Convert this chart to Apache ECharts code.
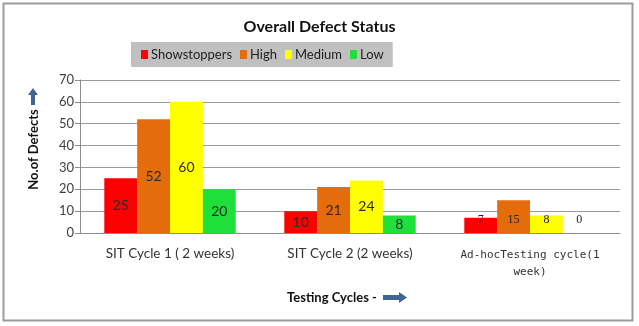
<!DOCTYPE html>
<html>
<head>
<meta charset="utf-8">
<script src="https://cdn.jsdelivr.net/npm/echarts@6/dist/echarts.min.js"></script>
<style>
html,body{margin:0;padding:0;background:#fff;}
#chart{width:639px;height:326px;}
</style>
</head>
<body>
<div id="chart"></div>
<script>
const categories = ['SIT Cycle 1 ( 2 weeks)', 'SIT Cycle 2 (2 weeks)', 'Ad-hocTesting cycle(1\nweek)'];
const seriesNames = ['Showstoppers', 'High', 'Medium', 'Low'];
const showstoppers = [25, 10, 7];
const high = [52, 21, 15];
const medium = [60, 24, 8];
const low = [20, 8, 0];
const seriesColors = ['#ff0000', '#e46c0a', '#ffff00', '#1fe03a'];
const yMin = 0, yMax = 70, yStep = 10;

const valuesList = [showstoppers, high, medium, low];
const FONT = 'Lato';

function buildData(values) {
  return values.map(function (v, i) {
    if (i === 2) {
      return {
        value: v,
        label: {
          position: 'insideBottom',
          distance: 7,
          fontFamily: 'Liberation Serif',
          fontSize: 12,
          color: '#222'
        }
      };
    }
    return v;
  });
}

const chart = echarts.init(document.getElementById('chart'));
chart.setOption({
  animation: false,
  backgroundColor: '#ffffff',
  title: {
    text: 'Overall Defect Status',
    left: 'center',
    top: 14,
    textStyle: { fontFamily: FONT, fontSize: 16, fontWeight: 'bold', color: '#111' }
  },
  legend: {
    data: seriesNames,
    left: 131,
    top: 42,
    backgroundColor: '#c0c0c0',
    padding: [6, 9, 6, 10],
    itemWidth: 7,
    itemHeight: 9,
    itemGap: 8,
    icon: 'rect',
    textStyle: { fontFamily: FONT, fontSize: 13, color: '#222', padding: [0, 0, 0, -2] }
  },
  grid: { left: 80, right: 19, top: 80, bottom: 93, containLabel: false },
  xAxis: {
    type: 'category',
    data: categories,
    name: 'Testing Cycles -',
    nameLocation: 'middle',
    nameGap: 58,
    nameTextStyle: { fontFamily: FONT, fontSize: 13, fontWeight: 'bold', color: '#111', padding: [0, 36, 0, 0] },
    axisLine: { lineStyle: { color: '#8c8c8c', width: 1 } },
    axisTick: { show: false },
    axisLabel: {
      interval: 0,
      margin: 14,
      fontFamily: FONT,
      fontSize: 13.5,
      color: '#333',
      formatter: function (v, i) {
        if (i === 2) {
          return v.split('\n').map(function (s) { return '{m|' + s + '}'; }).join('\n');
        }
        return v;
      },
      rich: {
        m: { fontFamily: 'DejaVu Sans Mono', fontSize: 11, color: '#333', lineHeight: 17 }
      }
    }
  },
  yAxis: {
    type: 'value',
    min: yMin,
    max: yMax,
    interval: yStep,
    name: 'No.of Defects',
    nameLocation: 'middle',
    nameGap: 40,
    nameTextStyle: { fontFamily: FONT, fontSize: 13, fontWeight: 'bold', color: '#111', padding: [0, 0, 0, 14] },
    axisLine: { show: true, lineStyle: { color: '#8c8c8c', width: 1 } },
    axisTick: { show: true, length: 5, lineStyle: { color: '#8c8c8c' } },
    axisLabel: { fontFamily: FONT, fontSize: 13, color: '#404040', margin: 6 },
    splitLine: { lineStyle: { color: '#9a9a9a', width: 1 } }
  },
  series: seriesNames.map(function (name, k) {
    return {
      name: name,
      type: 'bar',
      data: buildData(valuesList[k]),
      barGap: '0%',
      barCategoryGap: '27%',
      itemStyle: { color: seriesColors[k] },
      label: {
        show: true,
        position: 'inside',
        fontFamily: FONT,
        fontSize: 14,
        color: '#2a2a2a'
      }
    };
  }),
  graphic: [
    {
      type: 'rect',
      shape: { x: 3.5, y: 3.5, width: 629, height: 317 },
      style: { fill: 'none', stroke: '#9c9c9c', lineWidth: 2 },
      silent: true
    },
    {
      type: 'polygon',
      shape: { points: [[33, 88], [38, 95], [35, 95], [35, 105], [31, 105], [31, 95], [28, 95]] },
      style: { fill: '#3f6595' },
      silent: true
    },
    {
      type: 'polygon',
      shape: { points: [[383, 295], [399, 295], [399, 292], [407, 297.5], [399, 303], [399, 300], [383, 300]] },
      style: { fill: '#3f6595' },
      silent: true
    }
  ]
});
</script>
</body>
</html>
